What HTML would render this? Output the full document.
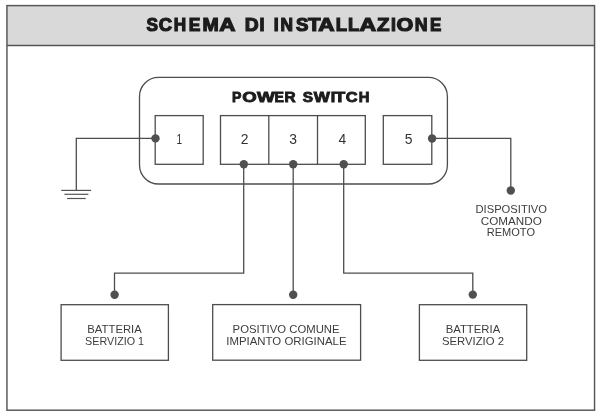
<!DOCTYPE html>
<html><head><meta charset="utf-8">
<style>
html,body{margin:0;padding:0;background:#fff;width:600px;height:416px;overflow:hidden}
svg{display:block;will-change:transform}
text{font-family:"Liberation Sans",sans-serif}
</style></head>
<body>
<svg width="600" height="416" viewBox="0 0 600 416">
<rect x="0" y="0" width="600" height="416" fill="#fff"/>
<!-- header -->
<rect x="6.9" y="5.6" width="587.7" height="39.9" fill="#d9d9d9"/>
<rect x="6.95" y="5.6" width="587.6" height="404.6" fill="none" stroke="#555" stroke-width="1.45"/>
<line x1="6.95" y1="45.5" x2="594.55" y2="45.5" stroke="#555" stroke-width="1.45"/>

<g fill="none" stroke="#4d4d4d" stroke-width="1.3">
<rect x="139.5" y="77.4" width="307.9" height="106.6" rx="19" ry="19"/>
<rect x="155.2" y="115.6" width="48" height="48.7"/>
<rect x="220.5" y="115.6" width="144.8" height="48.7"/>
<line x1="268.8" y1="115.6" x2="268.8" y2="164.3"/>
<line x1="317.5" y1="115.6" x2="317.5" y2="164.3"/>
<rect x="383.3" y="115.6" width="48.5" height="48.7"/>
<!-- ground -->
<polyline points="155.2,138.3 76.3,138.3 76.3,190.4"/>
<polyline points="431.7,138.3 510.8,138.3 510.8,190.5"/>
<polyline points="243.7,164.3 243.7,273.1 114.5,273.1 114.5,294.8"/>
<line x1="293.2" y1="164.3" x2="293.2" y2="294.8"/>
<polyline points="343.7,164.3 343.7,273.1 472.8,273.1 472.8,294.8"/>
<rect x="61.1" y="304.7" width="107.3" height="55.6"/>
<rect x="212.7" y="304.6" width="147.9" height="55.6"/>
<rect x="419.4" y="304.7" width="107.3" height="55.6"/>
</g>
<g stroke="#555" stroke-width="1.2">
<line x1="61.2" y1="190.4" x2="91.1" y2="190.4"/>
<line x1="64.4" y1="194.3" x2="88.4" y2="194.3"/>
<line x1="67.1" y1="198.5" x2="85.7" y2="198.5"/>
</g>
<g fill="#505050">
<circle cx="155.5" cy="138.4" r="4.2"/>
<circle cx="432.1" cy="138.5" r="4.2"/>
<circle cx="510.8" cy="190.5" r="4.2"/>
<circle cx="243.8" cy="164.2" r="4.2"/>
<circle cx="293.2" cy="164.2" r="4.2"/>
<circle cx="343.7" cy="164.2" r="4.2"/>
<circle cx="114.6" cy="294.8" r="4.2"/>
<circle cx="293.2" cy="294.8" r="4.2"/>
<circle cx="472.8" cy="294.6" r="4.2"/>
</g>
<g fill="#333" font-size="13.9">
<text x="176.5" y="143.9" font-family="Liberation Serif" font-size="13.8" textLength="5.6" lengthAdjust="spacingAndGlyphs">1</text>
<text x="240.7" y="143.7">2</text>
<text x="289.3" y="143.7">3</text>
<text x="338.5" y="143.7">4</text>
<text x="404.7" y="143.7">5</text>
</g>
<g fill="#3d3d3d" font-size="11.2">
<text x="475.5" y="212.6" textLength="71.5" lengthAdjust="spacingAndGlyphs">DISPOSITIVO</text>
<text x="480.8" y="224.5" textLength="61" lengthAdjust="spacingAndGlyphs">COMANDO</text>
<text x="486.7" y="236.2" textLength="48.3" lengthAdjust="spacingAndGlyphs">REMOTO</text>
<text x="87.3" y="332.9" textLength="54.5" lengthAdjust="spacingAndGlyphs">BATTERIA</text>
<text x="85.1" y="344.8" textLength="58.9" lengthAdjust="spacingAndGlyphs">SERVIZIO 1</text>
<text x="232.6" y="333.3" textLength="107" lengthAdjust="spacingAndGlyphs">POSITIVO COMUNE</text>
<text x="226.3" y="345" textLength="120.2" lengthAdjust="spacingAndGlyphs">IMPIANTO ORIGINALE</text>
<text x="445.7" y="332.9" textLength="54.5" lengthAdjust="spacingAndGlyphs">BATTERIA</text>
<text x="442" y="344.8" textLength="62" lengthAdjust="spacingAndGlyphs">SERVIZIO 2</text>
</g>
<!--TITLE-->
<g font-weight="bold" fill="#1c1c1c" stroke="#1c1c1c" stroke-width="1.2">
<text transform="translate(146.40,31.3) scale(0.937,1)" font-size="18.4">S</text>
<text transform="translate(158.80,31.3) scale(1.001,1)" font-size="18.4">C</text>
<text transform="translate(173.80,31.3) scale(0.933,1)" font-size="18.4">H</text>
<text transform="translate(188.80,31.3) scale(0.945,1)" font-size="18.4">E</text>
<text transform="translate(202.50,31.3) scale(1.057,1)" font-size="18.4">M</text>
<text transform="translate(219.20,31.3) scale(1.219,1)" font-size="18.4">A</text>
<text transform="translate(244.80,31.3) scale(1.046,1)" font-size="18.4">D</text>
<text transform="translate(259.60,31.3) scale(0.977,1)" font-size="18.4">I</text>
<text transform="translate(273.80,31.3) scale(0.958,1)" font-size="18.4">I</text>
<text transform="translate(280.40,31.3) scale(0.941,1)" font-size="18.4">N</text>
<text transform="translate(295.90,31.3) scale(1.010,1)" font-size="18.4">S</text>
<text transform="translate(307.90,31.3) scale(1.112,1)" font-size="18.4">T</text>
<text transform="translate(318.35,31.3) scale(1.223,1)" font-size="18.4">A</text>
<text transform="translate(335.85,31.3) scale(1.001,1)" font-size="18.4">L</text>
<text transform="translate(347.90,31.3) scale(1.001,1)" font-size="18.4">L</text>
<text transform="translate(359.60,31.3) scale(1.250,1)" font-size="18.4">A</text>
<text transform="translate(377.10,31.3) scale(1.112,1)" font-size="18.4">Z</text>
<text transform="translate(391.00,31.3) scale(0.958,1)" font-size="18.4">I</text>
<text transform="translate(396.50,31.3) scale(1.174,1)" font-size="18.4">O</text>
<text transform="translate(414.80,31.3) scale(0.964,1)" font-size="18.4">N</text>
<text transform="translate(430.00,31.3) scale(0.921,1)" font-size="18.4">E</text>
</g>
<g font-weight="bold" fill="#1c1c1c" stroke="#1c1c1c" stroke-width="0.9">
<text transform="translate(231.95,102.0) scale(0.979,1)" font-size="14.4">P</text>
<text transform="translate(242.35,102.0) scale(1.290,1)" font-size="14.4">O</text>
<text transform="translate(256.95,102.0) scale(1.309,1)" font-size="14.4">W</text>
<text transform="translate(274.45,102.0) scale(0.979,1)" font-size="14.4">E</text>
<text transform="translate(284.45,102.0) scale(1.068,1)" font-size="14.4">R</text>
<text transform="translate(302.75,102.0) scale(1.072,1)" font-size="14.4">S</text>
<text transform="translate(313.65,102.0) scale(1.184,1)" font-size="14.4">W</text>
<text transform="translate(330.70,102.0) scale(1.112,1)" font-size="14.4">I</text>
<text transform="translate(334.45,102.0) scale(1.216,1)" font-size="14.4">T</text>
<text transform="translate(345.70,102.0) scale(1.140,1)" font-size="14.4">C</text>
<text transform="translate(358.65,102.0) scale(1.024,1)" font-size="14.4">H</text>
</g>
<!--/TITLE-->
</svg>
</body></html>
